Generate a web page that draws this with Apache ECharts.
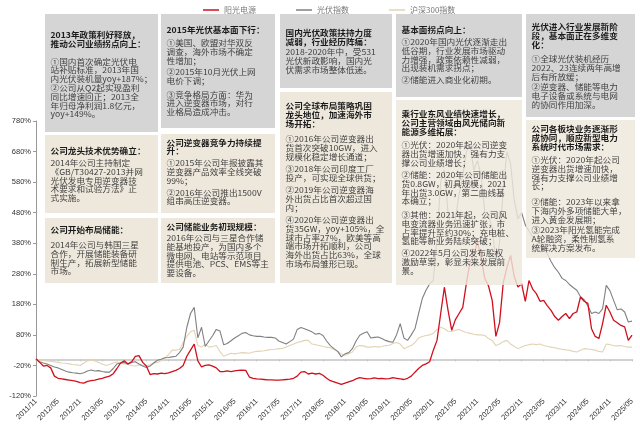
<!DOCTYPE html>
<html><head><meta charset="utf-8">
<script src="https://cdn.jsdelivr.net/npm/echarts/dist/echarts.min.js"></script>
<style>html,body{margin:0;padding:0;background:#fff}#c{width:640px;height:434px}</style>
</head><body><div id="c"></div>
<script>
// ---- DATA (monthly, 2011/11 .. 2025/05), cumulative return in % ----
const seriesNames = ['阳光电源', '光伏指数', '沪深300指数'];
const sungrow = [
 2,-10,-22,-20,-28,-55,-62,-64,-66,-68,
 -70,-72,-76,-78,-72,-70,-68,-65,-62,-58,
 -55,-47,-30,-12,-5,-15,-8,10,12,-10,
 -22,-50,-47,-48,-45,-47,-44,-40,-36,-30,
 -20,10,30,50,-5,-25,-20,-18,-22,-28,
 -40,-40,-38,-40,-38,-36,-35,-36,-58,-62,
 -64,-65,-66,-67,-67,-68,-68,-67,-66,-65,
 -62,-55,-42,-40,-48,-45,-48,-46,-52,-62,
 -70,-74,-78,-82,-78,-74,-70,-64,-60,-62,
 -64,-63,-61,-63,-62,-64,-63,-60,-62,-64,
 -66,-62,-55,-42,-30,-20,-15,-8,30,62,
 150,236,160,95,130,150,170,250,320,340,
 385,330,265,240,193,75,120,250,300,340,
 270,237,247,190,258,230,215,190,193,175,
 160,140,128,140,150,133,150,155,204,190,
 183,100,75,68,117,177,155,128,120,111,
 106,62,79
];
const pvIndex = [
 0,-8,-12,-15,-20,-25,-28,-33,-38,-42,
 -44,-45,-47,-44,-38,-35,-38,-37,-40,-42,
 -42,-30,-15,-12,-10,-15,-10,-8,-15,-22,
 -27,-22,-12,-3,0,5,6,8,10,22,
 40,105,150,170,70,105,42,60,77,98,
 93,48,52,61,70,77,85,88,80,77,
 75,75,73,72,72,70,60,55,50,58,
 66,98,104,100,95,90,82,85,78,60,
 45,35,26,8,18,22,35,60,79,85,
 90,70,72,73,68,62,58,56,80,117,
 70,62,80,100,150,199,226,247,258,400,
 580,620,480,430,460,540,600,680,700,620,
 650,600,480,470,430,320,380,560,680,640,
 520,460,480,440,420,400,390,380,370,345,
 320,300,285,265,258,245,235,226,205,195,
 175,150,155,150,165,242,225,193,162,165,
 155,122,125
];
const hs300 = [
 0,-2,-4,-5,-6,-8,-10,-12,-13,-15,
 -17,-18,-20,-12,-5,-3,-5,-10,-15,-20,
 -17,-12,-9,-12,-15,-17,-20,-22,-18,-20,
 -22,-18,-12,-10,-5,3,15,30,30,32,
 55,75,90,95,45,40,50,40,42,45,
 25,10,15,20,18,20,22,21,20,24,
 26,27,28,30,32,33,35,36,40,45,
 50,55,58,62,62,50,48,45,42,40,
 38,32,26,18,13,18,24,40,45,44,
 40,40,42,40,42,45,46,52,55,50,
 35,40,45,55,70,75,78,80,85,98,
 105,100,92,91,95,98,92,88,85,82,
 80,80,78,68,62,45,50,58,62,50,
 42,35,40,45,48,50,48,50,45,42,
 40,38,35,33,31,30,26,24,30,35,
 34,32,30,26,24,50,48,45,44,45,
 42,40,40
];
const months = [];
for (let y = 2011, m = 11; months.length < 163; ) {
  months.push(y + '/' + (m < 10 ? '0' + m : m));
  m++; if (m > 12) { m = 1; y++; }
}
const yTicks = {min: -120, max: 780, step: 100};

// ---- annotation boxes ----
const GRAY = '#d5d5d5', BEIGE = '#eee8dc', BEIGE_T = 'rgba(238,232,220,0.82)';
const boxes = [
 {x:45,y:14,w:113,h:118,fill:GRAY,paras:[
  {y:35,b:1,t:['2013年政策利好释放，','推动公司业绩拐点向上：']},
  {y:61.5,t:['①国内首次确定光伏电','站补贴标准，2013年国','内光伏装机量yoy+187%；']},
  {y:88,t:['②公司从Q2起实现盈利','同比增速回正；2013全','年归母净利润1.8亿元，','yoy+149%。']}]},
 {x:161,y:14,w:114,h:114,fill:GRAY,paras:[
  {y:30,b:1,t:['2015年光伏基本面下行：']},
  {y:43,t:['①美国、欧盟对华双反','调查，海外市场不确定','性增加；']},
  {y:72,t:['②2015年10月光伏上网','电价下调；']},
  {y:94.5,t:['③竞争格局方面：华为','进入逆变器市场，对行','业格局造成冲击。']}]},
 {x:280,y:14,w:112,h:74,fill:GRAY,paras:[
  {y:33,b:1,t:['国内光伏政策扶持力度','减弱，行业经历阵痛：']},
  {y:52,t:['2018-2020年中，受531','光伏新政影响，国内光','伏需求市场整体低迷。']}]},
 {x:396,y:14,w:126,h:83,fill:GRAY,paras:[
  {y:30,b:1,t:['基本面拐点向上：']},
  {y:42,t:['①2020年国内光伏逐渐走出','低谷期，行业发展市场驱动','力增强，政策依赖性减弱，','出现装机需求拐点；']},
  {y:80,t:['②储能进入商业化初期。']}]},
 {x:526,y:14,w:109,h:103,fill:GRAY,paras:[
  {y:27,b:1,t:['光伏进入行业发展新阶','段，基本面正在多维变','化：']},
  {y:59,t:['①全球光伏装机经历','2022、23连续两年高增','后有所放缓；']},
  {y:87,t:['②逆变器、储能等电力','电子设备或系统与电网','的协同作用加深。']}]},
 {x:45,y:135,w:113,h:78,fill:BEIGE,paras:[
  {y:151,b:1,t:['公司龙头技术优势确立：']},
  {y:163,t:['2014年公司主持制定','《GB/T30427-2013并网','光伏发电专用逆变器技','术要求和试验方法》正','式实施。']}]},
 {x:161,y:134,w:114,h:79,fill:BEIGE,paras:[
  {y:142.5,b:1,t:['公司逆变器竞争力持续提','升：']},
  {y:163,t:['①2015年公司年报披露其','逆变器产品效率全线突破','99%；']},
  {y:192.5,t:['②2016年公司推出1500V','组串高压逆变器。']}]},
 {x:280,y:92,w:112,h:191,fill:BEIGE,paras:[
  {y:106,b:1,t:['公司全球布局策略巩固','龙头地位，加速海外市','场开拓：']},
  {y:139,t:['①2016年公司逆变器出','货首次突破10GW，进入','规模化稳定增长通道；']},
  {y:169,t:['③2018年公司印度工厂','投产，可实现全球供货；']},
  {y:190,t:['②2019年公司逆变器海','外出货占比首次超过国','内；']},
  {y:220,t:['④2020年公司逆变器出','货35GW，yoy+105%，全','球市占率27%，欧美等高','端市场开拓顺利，公司','海外出货占比63%，全球','市场布局雏形已现。']}]},
 {x:396,y:100,w:126,h:185,fill:BEIGE_T,paras:[
  {y:114,b:1,t:['乘行业东风业绩快速增长，','公司主营领域由风光储向新','能源多维拓展：']},
  {y:145,t:['①光伏：2020年起公司逆变','器出货增速加快，强有力支','撑公司业绩增长；']},
  {y:175,t:['②储能：2020年公司储能出','货0.8GW，初具规模，2021','年出货3.0GW，第二曲线基','本确立；']},
  {y:215,t:['③其他：2021年起，公司风','电变流器业务迅速扩张，市','占率提升至约30%；充电桩、','氢能等新业务陆续突破；']},
  {y:253,t:['④2022年5月公司发布股权','激励草案，彰显未来发展前','景。']}]},
 {x:526,y:120,w:109,h:138,fill:BEIGE_T,paras:[
  {y:129,b:1,t:['公司各板块业务逐渐形','成协同，顺应新型电力','系统时代市场需求：']},
  {y:160,t:['①光伏：2020年起公司','逆变器出货增速加快，','强有力支撑公司业绩增','长；']},
  {y:202,t:['②储能：2023年以来拿','下海内外多项储能大单，','进入黄金发展期；']},
  {y:230,t:['③2023年阳光氢能完成','A轮融资，柔性制氢系','统解决方案发布。']}]},
 {x:45,y:218,w:113,h:65,fill:BEIGE,paras:[
  {y:230,b:1,t:['公司开始布局储能：']},
  {y:245,t:['2014年公司与韩国三星','合作，开展储能装备研','制生产，拓展新型储能','市场。']}]},
 {x:161,y:218,w:114,h:65,fill:BEIGE,paras:[
  {y:227,b:1,t:['公司储能业务初现规模：']},
  {y:238,t:['2016年公司与三星合作储','能基地投产，为国内多个','微电网、电站等示范项目','提供电池、PCS、EMS等主','要设备。']}]}
];
const LH = 8.8;
const graphics = [];
boxes.forEach(bx => {
  graphics.push({type:'rect', z:100, silent:true, shape:{x:bx.x,y:bx.y,width:bx.w,height:bx.h}, style:{fill:bx.fill}});
  bx.paras.forEach(p => {
    p.t.forEach((line, i) => {
      graphics.push({type:'text', z:101, silent:true, x: bx.x + 5.5, y: p.y + i * LH, scaleX: 1.08, scaleY: 1,
        style:{text: line, fill: p.b ? '#1a1a1a' : '#3f3f3f', fontSize: 8,
          fontWeight: p.b ? 'bold' : 'normal', fontFamily: '"Noto Sans CJK SC", sans-serif',
          verticalAlign: 'middle', align: 'left'}});
    });
  });
});

const chart = echarts.init(document.getElementById('c'), null, {renderer:'canvas'});
chart.setOption({
  animation: false,
  backgroundColor: '#fff',
  legend: {
    top: 1, left: 198, itemGap: 40, itemWidth: 16, itemHeight: 1.5, icon: 'rect',
    textStyle: {fontSize: 8, color: '#777', fontFamily: '"Noto Sans CJK SC", sans-serif'},
    data: seriesNames
  },
  grid: {left: 36, right: 8, top: 121, bottom: 38, containLabel: false},
  xAxis: [
    {type:'category', data: months, boundaryGap:false,
     axisLine:{show:false, onZero:false}, axisTick:{show:false},
     axisLabel:{interval:5, rotate:45, fontSize:7.5, color:'#333', margin:4, fontFamily:'"Liberation Sans", Arial'}},
    {type:'category', data: months, boundaryGap:false, position:'bottom',
     axisLine:{show:true, onZero:true, lineStyle:{color:'#c4c4c4', width:1.5}},
     axisTick:{show:true, interval:5, length:2, lineStyle:{color:'#c4c4c4'}},
     axisLabel:{show:false}}
  ],
  yAxis: {
    type:'value', min: yTicks.min, max: yTicks.max, interval: yTicks.step,
    axisLine:{show:true, lineStyle:{color:'#999'}},
    axisTick:{show:true, length:3, lineStyle:{color:'#999'}},
    splitLine:{show:false},
    axisLabel:{formatter:'{value}%', fontSize:7.5, color:'#333', margin:5, fontFamily:'"Liberation Sans", Arial'}
  },
  series: [
    {name: seriesNames[0], type:'line', data: sungrow, showSymbol:false, z:4, color:'#d0101c', lineStyle:{width:1.3, color:'#d0101c'}},
    {name: seriesNames[1], type:'line', data: pvIndex, showSymbol:false, z:3, color:'#808080', lineStyle:{width:1.1, color:'#808080'}},
    {name: seriesNames[2], type:'line', data: hs300, showSymbol:false, z:2, color:'#e3d3b5', lineStyle:{width:1.1, color:'#e3d3b5'}}
  ],
  graphic: graphics
});
</script></body></html>
